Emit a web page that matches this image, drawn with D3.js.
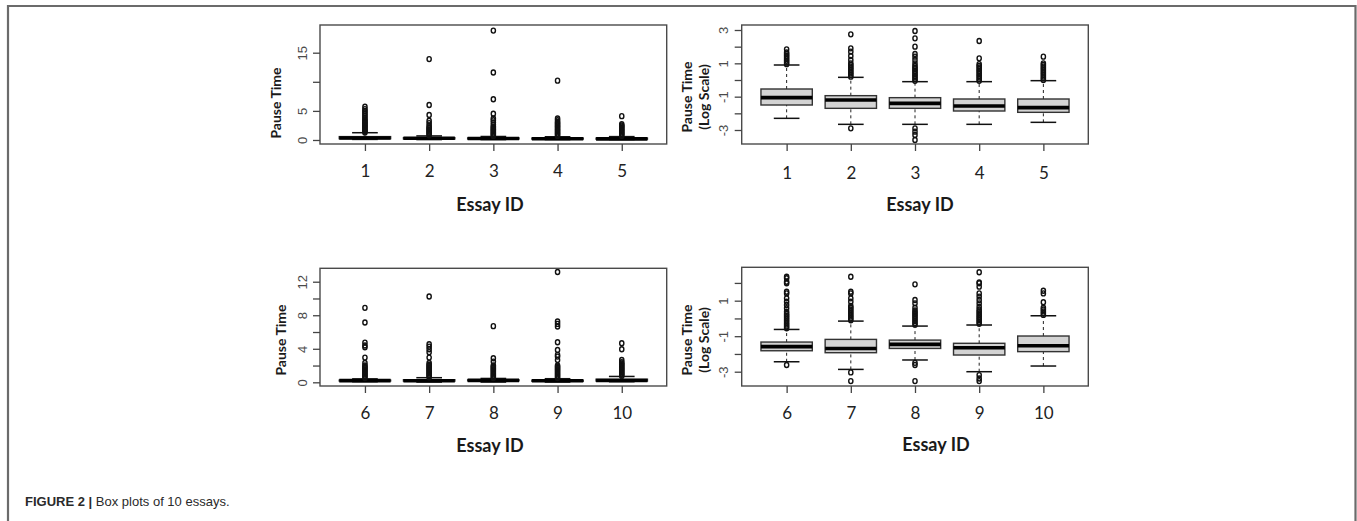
<!DOCTYPE html>
<html>
<head>
<meta charset="utf-8">
<script src="https://cdn.jsdelivr.net/npm/d3@7"></script>
<style>
  body { margin: 0; background: #fff; }
  svg { display: block; }
</style>
</head>
<body>
<svg id="fig" width="1357" height="521"></svg>
<script>
// essay ids
const essaysTop = ['1', '2', '3', '4', '5']
const essaysBottom = ['6', '7', '8', '9', '10']

// box stats: [lower whisker, q1, median, q3, upper whisker]
const linStatsTop = [[0.1,0.22,0.35,0.58,1.25],[0.07,0.18,0.3,0.39,0.7],[0.07,0.18,0.25,0.35,0.6],[0.07,0.16,0.21,0.32,0.56],[0.08,0.14,0.19,0.32,0.58]]
const logStatsTop = [[-2.3,-1.5,-1.06,-0.54,0.9],[-2.66,-1.7,-1.2,-0.94,0.16],[-2.66,-1.7,-1.4,-1.06,-0.1],[-2.66,-1.86,-1.56,-1.14,-0.1],[-2.54,-1.94,-1.66,-1.14,-0.04]]
const linStatsBottom = [[0.07,0.16,0.2,0.26,0.41],[0.03,0.145,0.185,0.31,0.55],[0.03,0.185,0.23,0.295,0.46],[0.03,0.127,0.19,0.247,0.43],[0.07,0.154,0.21,0.37,0.7]]
const logStatsBottom = [[-2.44,-1.82,-1.59,-1.33,-0.62],[-2.87,-1.93,-1.69,-1.18,-0.15],[-2.34,-1.69,-1.46,-1.22,-0.43],[-3.0,-2.06,-1.65,-1.4,-0.37],[-2.68,-1.87,-1.54,-0.99,0.15]]

// outliers per essay
const linOutTop = [
  [1.3,1.5,1.7,1.9,2.1,2.3,2.5,2.7,2.9,3.1,3.3,3.5,3.8,4.1,4.4,4.7,5.0,5.3,5.7],
  [0.8,1.0,1.2,1.4,1.6,1.8,2.0,2.2,2.5,2.9,3.3,4.3,6.0,13.9],
  [0.7,0.9,1.1,1.3,1.5,1.7,1.9,2.1,2.3,2.6,3.0,3.4,3.7,4.5,7.0,11.6,18.8],
  [0.7,0.9,1.1,1.3,1.5,1.7,1.9,2.1,2.3,2.5,2.7,2.9,3.1,3.4,3.7,10.2],
  [0.7,0.9,1.1,1.3,1.5,1.7,1.9,2.1,2.3,2.5,2.7,4.1]
]
const logOutTop = [
  [0.95,1.05,1.15,1.25,1.35,1.45,1.55,1.65,1.84],
  [0.2,0.3,0.4,0.5,0.6,0.7,0.8,0.9,1.0,1.2,1.44,1.7,1.9,2.74,-2.9],
  [-0.05,0.05,0.15,0.25,0.35,0.45,0.55,0.65,0.75,0.85,1.0,1.2,1.4,1.56,2.0,2.5,2.94,-2.9,-3.1,-3.3,-3.6],
  [-0.05,0.05,0.15,0.25,0.35,0.45,0.55,0.65,0.75,0.85,0.95,1.3,2.34],
  [0.0,0.1,0.2,0.3,0.4,0.5,0.6,0.7,0.8,0.9,1.0,1.4]
]
const linOutBottom = [
  [0.5,0.65,0.8,0.95,1.1,1.25,1.4,1.55,1.7,1.85,2.0,2.3,2.95,4.18,4.4,4.74,7.13,8.88],
  [0.6,0.75,0.9,1.05,1.2,1.35,1.5,1.65,1.8,1.95,2.1,2.3,2.95,3.6,3.94,4.26,4.54,10.24],
  [0.5,0.65,0.8,0.95,1.1,1.25,1.4,1.55,1.7,1.85,2.0,2.47,2.87,6.7],
  [0.5,0.65,0.8,0.95,1.1,1.25,1.4,1.55,1.7,1.85,2.0,2.67,3.07,3.27,3.86,4.78,6.65,6.97,7.25,13.15],
  [0.75,0.9,1.05,1.2,1.35,1.5,1.65,1.8,1.95,2.1,2.25,2.4,2.67,3.94,4.66]
]
const logOutBottom = [
  [-0.55,-0.45,-0.35,-0.25,-0.15,-0.05,0.05,0.15,0.25,0.38,0.57,0.76,0.94,1.13,1.41,1.5,1.98,2.07,2.26,2.35,-2.62],
  [-0.1,0.0,0.1,0.2,0.3,0.4,0.5,0.6,0.7,0.94,1.13,1.41,1.5,2.35,-3.04,-3.53],
  [-0.35,-0.25,-0.15,-0.05,0.05,0.15,0.25,0.35,0.45,0.6,0.85,1.04,1.92,-2.5,-2.62,-3.53],
  [-0.3,-0.2,-0.1,0.0,0.1,0.2,0.3,0.4,0.5,0.66,0.85,1.04,1.23,1.41,1.79,1.98,2.03,2.6,-3.19,-3.38,-3.53],
  [0.2,0.3,0.4,0.5,0.6,0.91,1.41,1.56]
]

// y ticks and their labels (R drops labels that would collide)
const linTicksTop = [0, 5, 10, 15]
const linLabelsTop = ['0', '5', '', '15']
const logTicksTop = [-3, -2, -1, 0, 1, 2, 3]
const logLabelsTop = ['-3', '', '-1', '', '1', '', '3']
const linTicksBottom = [0, 2, 4, 6, 8, 10, 12]
const linLabelsBottom = ['0', '', '4', '', '8', '', '12']
const logTicksBottom = [-3, -2, -1, 0, 1, 2]
const logLabelsBottom = ['-3', '', '-1', '', '1', '']

const svg = d3.select('#fig')

// outer figure frame
svg.append('path')
  .attr('d', 'M8,521V6H1355.5V521')
  .attr('fill', 'none')
  .attr('stroke', '#6b6b6b')
  .attr('stroke-width', 2.2)

function drawPanel(p) {
  let g = svg.append('g')
  let x = d3.scaleLinear().domain([0.3, p.cats.length + 0.7]).range([p.left, p.right])
  let y = d3.scaleLinear().domain(p.yDomain).range([p.bottom, p.top])
  let bw = x(1.4) - x(1)   // box half-width (0.8 box)

  let boxes = g.selectAll('.essay')
    .data(p.stats.map((s, i) => ({ s: s, out: p.outliers[i], i: i + 1 })))
    .enter().append('g')

  // dashed whiskers
  boxes.append('line')
    .attr('x1', d => x(d.i)).attr('x2', d => x(d.i))
    .attr('y1', d => y(d.s[0])).attr('y2', d => y(d.s[1]))
    .attr('stroke', '#222').attr('stroke-dasharray', '3,3')
  boxes.append('line')
    .attr('x1', d => x(d.i)).attr('x2', d => x(d.i))
    .attr('y1', d => y(d.s[3])).attr('y2', d => y(d.s[4]))
    .attr('stroke', '#222').attr('stroke-dasharray', '3,3')
  // caps
  boxes.selectAll('.cap')
    .data(d => [[d.i, d.s[0]], [d.i, d.s[4]]])
    .enter().append('line')
    .attr('x1', d => x(d[0]) - bw / 2).attr('x2', d => x(d[0]) + bw / 2)
    .attr('y1', d => y(d[1])).attr('y2', d => y(d[1]))
    .attr('stroke', '#111').attr('stroke-width', 1.5)
  // box
  boxes.append('rect')
    .attr('x', d => x(d.i) - bw)
    .attr('width', 2 * bw)
    .attr('y', d => y(d.s[3]))
    .attr('height', d => y(d.s[1]) - y(d.s[3]))
    .attr('fill', '#d3d3d3')
    .attr('stroke', '#333').attr('stroke-width', 1.4)
  // median
  boxes.append('line')
    .attr('x1', d => x(d.i) - bw).attr('x2', d => x(d.i) + bw)
    .attr('y1', d => y(d.s[2])).attr('y2', d => y(d.s[2]))
    .attr('stroke', '#000').attr('stroke-width', 3.6)
  // outliers
  boxes.selectAll('circle')
    .data(d => d.out.map(v => [d.i, v]))
    .enter().append('ellipse')
    .attr('cx', d => x(d[0])).attr('cy', d => y(d[1]))
    .attr('rx', 2.1).attr('ry', 2.5)
    .attr('fill', 'none').attr('stroke', '#111').attr('stroke-width', 1.4)

  // plot frame
  g.append('rect')
    .attr('x', p.left).attr('y', p.top)
    .attr('width', p.right - p.left).attr('height', p.bottom - p.top)
    .attr('fill', 'none').attr('stroke', '#4a4a4a').attr('stroke-width', 1.4)

  // x axis
  let xa = g.append('g')
    .attr('transform', `translate(0,${p.bottom})`)
    .call(d3.axisBottom(x).tickValues(d3.range(1, p.cats.length + 1)).tickFormat(i => p.cats[i - 1]).tickSize(7).tickPadding(0))
  xa.select('.domain').remove()
  xa.selectAll('line').attr('stroke', '#444').attr('stroke-width', 1.3)
  xa.selectAll('text')
    .attr('y', p.xLabBase).attr('dy', 0)
    .attr('fill', '#222')
    .style('font-family', 'Lato, "Open Sans", sans-serif')
    .style('font-size', '17px')

  // y axis
  let ya = g.append('g')
    .attr('transform', `translate(${p.left},0)`)
    .call(d3.axisLeft(y).tickValues(p.yTicks).tickFormat((v, i) => p.yLabels[i]).tickSize(7))
  ya.select('.domain').remove()
  ya.selectAll('line').attr('stroke', '#444').attr('stroke-width', 1.3)
  ya.selectAll('text')
    .attr('transform', 'rotate(-90)')
    .attr('x', 0).attr('y', -13.5).attr('dy', 0)
    .attr('text-anchor', 'middle')
    .attr('fill', '#4a4a4a')
    .style('font-family', '"Liberation Sans", Arial, sans-serif')
    .style('font-size', '13px')

  // axis titles
  g.append('text')
    .attr('x', p.xTitleX).attr('y', p.xTitleY)
    .attr('text-anchor', 'middle')
    .attr('fill', '#1a1a1a')
    .style('font-family', 'Lato, "Open Sans", sans-serif')
    .style('font-weight', 'bold')
    .style('font-size', '18px')
    .text('Essay ID')

  p.yTitle.forEach((t, k) => {
    g.append('text')
      .attr('transform', `translate(${p.yTitleX[k]},${p.yTitleY}) rotate(-90)`)
      .attr('text-anchor', 'middle')
      .attr('fill', '#1a1a1a')
      .style('font-family', 'Lato, "Open Sans", sans-serif')
      .style('font-weight', 'bold')
      .style('font-size', '14px')
      .text(t)
  })
}

drawPanel({ cats: essaysTop, stats: linStatsTop, outliers: linOutTop,
  left: 320, right: 666.7, top: 25, bottom: 144, yDomain: [-0.69, 19.76],
  yTicks: linTicksTop, yLabels: linLabelsTop, xLabBase: 32.5,
  xTitleX: 490, xTitleY: 211, yTitle: ['Pause Time'], yTitleX: [281], yTitleY: 103 })

drawPanel({ cats: essaysTop, stats: logStatsTop, outliers: logOutTop,
  left: 741.7, right: 1088.3, top: 25, bottom: 144, yDomain: [-3.84, 3.3],
  yTicks: logTicksTop, yLabels: logLabelsTop, xLabBase: 34.5,
  xTitleX: 920, xTitleY: 211, yTitle: ['Pause Time', '(Log Scale)'], yTitleX: [691.5, 708.5], yTitleY: 97 })

drawPanel({ cats: essaysBottom, stats: linStatsBottom, outliers: linOutBottom,
  left: 320, right: 666.7, top: 268.3, bottom: 386, yDomain: [-0.44, 13.6],
  yTicks: linTicksBottom, yLabels: linLabelsBottom, xLabBase: 32.5,
  xTitleX: 490, xTitleY: 451.5, yTitle: ['Pause Time'], yTitleX: [286], yTitleY: 340 })

drawPanel({ cats: essaysBottom, stats: logStatsBottom, outliers: logOutBottom,
  left: 741.7, right: 1088.3, top: 267.3, bottom: 386, yDomain: [-3.805, 2.88],
  yTicks: logTicksBottom, yLabels: logLabelsBottom, xLabBase: 33,
  xTitleX: 936, xTitleY: 450.5, yTitle: ['Pause Time', '(Log Scale)'], yTitleX: [692, 709], yTitleY: 340 })

// caption
let cap = svg.append('text')
  .attr('x', 25).attr('y', 506)
  .attr('fill', '#2a2a2a')
  .style('font-family', '"Liberation Sans", Arial, sans-serif')
  .style('font-size', '13px')
cap.append('tspan').style('font-weight', 'bold').text('FIGURE 2 |')
cap.append('tspan').text(' Box plots of 10 essays.')
</script>
</body>
</html>
